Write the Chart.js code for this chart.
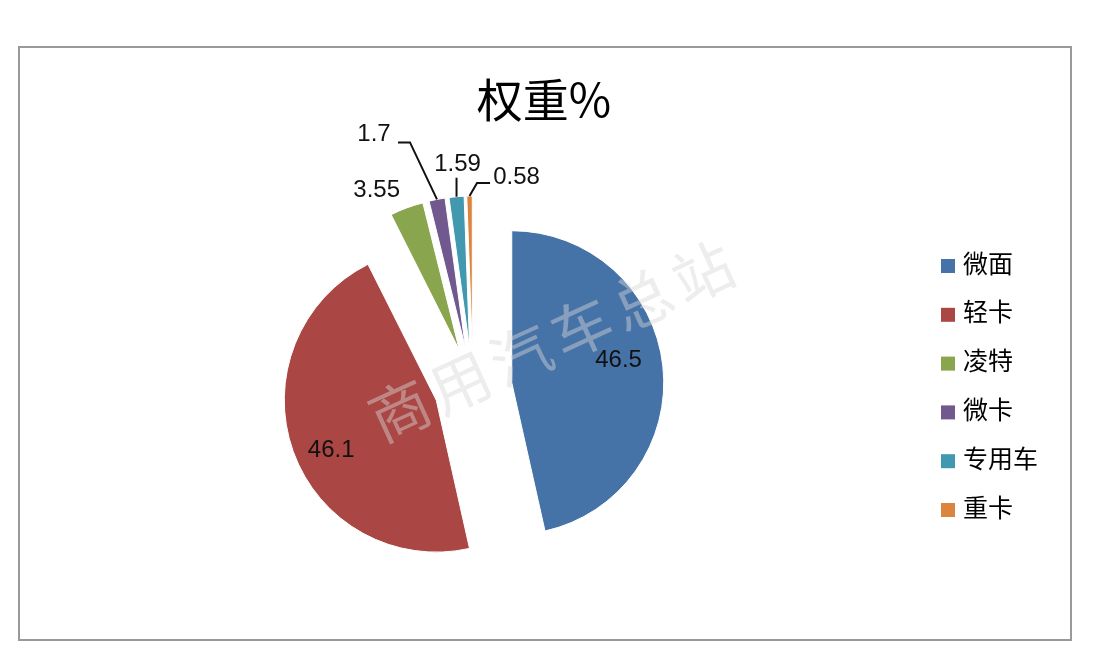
<!DOCTYPE html>
<html>
<head>
<meta charset="utf-8">
<script src="https://cdn.jsdelivr.net/npm/chart.js@4.4.0/dist/chart.umd.min.js"></script>
<style>
html, body { margin: 0; padding: 0; background: #fff; }
#frame { position: absolute; left: 18px; top: 46px; width: 1054px; height: 595px; box-sizing: border-box; border: 2px solid #999; }
#wrap { position: absolute; left: 0; top: 0; width: 1099px; height: 671px; }
</style>
</head>
<body>
<div id="frame"></div>
<div id="wrap"><canvas id="c" width="1099" height="671"></canvas></div>
<script>
// data
var categories = ['微面', '轻卡', '凌特', '微卡', '专用车', '重卡'];
var weights = [46.5, 46.1, 3.55, 1.7, 1.59, 0.58];
var valueLabels = ['46.5', '46.1', '3.55', '1.7', '1.59', '0.58'];
var chartTitle = '权重%';
var watermark = '商用汽车总站';

var colors = ['#4572A7', '#AA4643', '#89A54E', '#71588F', '#4198AF', '#DB843D'];
var explode = 39;

// label placement: r = fraction of radius along the bisector, then a nudge; line = leader points
var labelPlace = [
    { r: 0.72, dx: -2, dy: -10 },
    { r: 0.72, dx: -2, dy: 13 },
    { r: 1, dx: -30, dy: -18 },
    { r: 1, dx: -63, dy: -65, line: [[-27, -57], [-39, -57]] },
    { r: 1, dx: 1, dy: -32, line: [[0, -19]] },
    { r: 1, dx: 47, dy: -18.5, line: [[7.5, -13], [20.5, -13]] }
];

var cjk = '"Noto Sans CJK SC", "Noto Sans", sans-serif';
var num = '"Liberation Sans", "Noto Sans", sans-serif';

// pull every slice out along its own bisector, like an exploded excel pie
var explodePlugin = {
    id: 'explode',
    afterDatasetsUpdate: function(chart) {
        var a = chart.chartArea;
        var cx = (a.left + a.right) / 2, cy = (a.top + a.bottom) / 2;
        chart.getDatasetMeta(0).data.forEach(function(arc) {
            var mid = (arc.startAngle + arc.endAngle) / 2;
            arc.x = cx + explode * Math.cos(mid);
            arc.y = cy + explode * Math.sin(mid);
        });
    }
};

var decoPlugin = {
    id: 'deco',
    afterDatasetsDraw: function(chart) {
        var ctx = chart.ctx;
        ctx.save();

        // watermark
        ctx.translate(551, 341);
        ctx.rotate(-24.5 * Math.PI / 180);
        ctx.font = '60px ' + cjk;
        ctx.fillStyle = 'rgba(215,215,215,0.45)';
        ctx.textAlign = 'center';
        ctx.textBaseline = 'middle';
        for (var k = 0; k < watermark.length; k++) {
            ctx.fillText(watermark[k], (k - (watermark.length - 1) / 2) * 66.6, 0);
        }
        ctx.setTransform(1, 0, 0, 1, 0, 0);

        // value labels
        ctx.font = '24px ' + num;
        ctx.fillStyle = '#111';
        ctx.strokeStyle = '#111';
        ctx.lineWidth = 2;
        chart.getDatasetMeta(0).data.forEach(function(arc, i) {
            var p = labelPlace[i];
            var mid = (arc.startAngle + arc.endAngle) / 2;
            var ax = arc.x + arc.outerRadius * p.r * Math.cos(mid);
            var ay = arc.y + arc.outerRadius * p.r * Math.sin(mid);
            if (p.line) {
                ctx.beginPath();
                ctx.moveTo(ax, ay);
                p.line.forEach(function(q) { ctx.lineTo(ax + q[0], ay + q[1]); });
                ctx.stroke();
            }
            ctx.fillText(valueLabels[i], ax + p.dx, ay + p.dy);
        });

        // title
        ctx.font = '46px ' + cjk;
        ctx.fillStyle = '#000';
        ctx.fillText(chartTitle, 544, 100);

        // legend
        ctx.textAlign = 'left';
        ctx.font = '25px ' + cjk;
        for (var i = 0; i < categories.length; i++) {
            var y = 263 + i * 48.8;
            ctx.fillStyle = colors[i];
            ctx.fillRect(941, y - 4, 14, 14);
            ctx.fillStyle = '#000';
            ctx.fillText(categories[i], 963, y);
        }
        ctx.restore();
    }
};

new Chart(document.getElementById('c'), {
    type: 'pie',
    data: {
        labels: categories,
        datasets: [{
            data: weights,
            backgroundColor: colors,
            borderColor: '#fff',
            borderWidth: 1,
            radius: 152
        }]
    },
    options: {
        responsive: false,
        animation: false,
        events: [],
        layout: { padding: { left: 282, right: 435, top: 196, bottom: 93 } },
        plugins: {
            legend: { display: false },
            tooltip: { enabled: false },
            title: { display: false }
        }
    },
    plugins: [explodePlugin, decoPlugin]
});
</script>
</body>
</html>
